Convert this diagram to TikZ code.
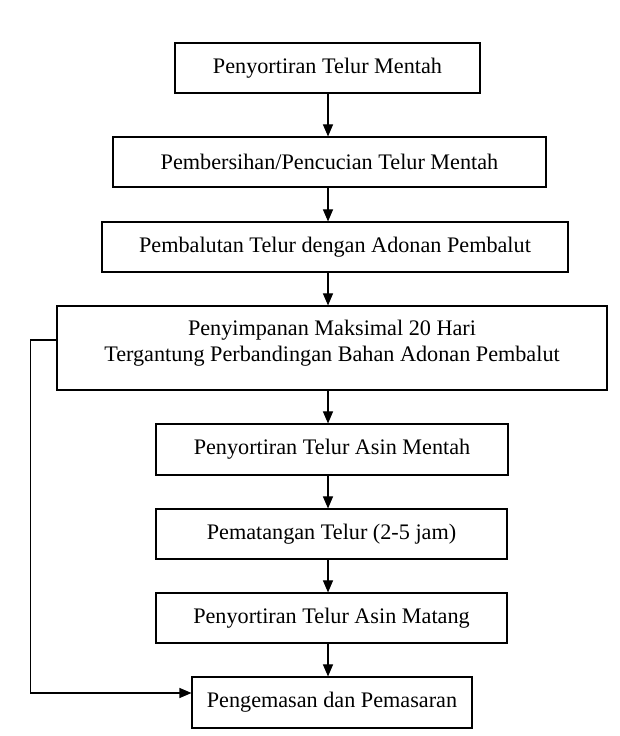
\documentclass[tikz,border=0pt]{standalone}
\usepackage{fontspec}
\setmainfont{Liberation Serif}
\usetikzlibrary{arrows.meta}

\begin{document}
\begin{tikzpicture}[x=1pt,y=1pt,
        langkah/.style={draw,line width=1.1pt,align=center,inner sep=0pt,
            font=\fontsize{22.2}{26}\selectfont},
        panah/.style={line width=1.1pt,-{Triangle[length=12pt,width=10pt]}}]
        \useasboundingbox (0,0) rectangle (620,736);

        \node[langkah,minimum width=305pt,minimum height=50pt] (sortir) at (327.5,668) {Penyortiran Telur Mentah};
        \node[langkah,minimum width=433pt,minimum height=50pt] (bersih) at (329.5,574) {Pembersihan/Pencucian Telur Mentah};
        \node[langkah,minimum width=466pt,minimum height=50pt] (balut) at (335,489) {Pembalutan Telur dengan Adonan Pembalut};
        \node[langkah,minimum width=550pt,minimum height=84pt,text depth=14pt] (simpan) at (332,388)
            {Penyimpanan Maksimal 20 Hari\\Tergantung Perbandingan Bahan Adonan Pembalut};
        \node[langkah,minimum width=352pt,minimum height=51pt] (sortirasin) at (332,286.5) {Penyortiran Telur Asin Mentah};
        \node[langkah,minimum width=351pt,minimum height=50pt] (matang) at (331.5,202) {Pematangan Telur (2-5 jam)};
        \node[langkah,minimum width=351pt,minimum height=50pt] (sortirmatang) at (331.5,118) {Penyortiran Telur Asin Matang};
        \node[langkah,minimum width=280pt,minimum height=51pt] (kemas) at (332,33.5) {Pengemasan dan Pemasaran};

        \coordinate (poros) at (328,0);

        \draw[panah] (sortir.south -| poros) -- (bersih.north -| poros);
        \draw[panah] (bersih.south -| poros) -- (balut.north -| poros);
        \draw[panah] (balut.south -| poros) -- (simpan.north -| poros);
        \draw[panah] (simpan.south -| poros) -- (sortirasin.north -| poros);
        \draw[panah] (sortirasin.south -| poros) -- (matang.north -| poros);
        \draw[panah] (matang.south -| poros) -- (sortirmatang.north -| poros);
        \draw[panah] (sortirmatang.south -| poros) -- (kemas.north -| poros);

        % jalur langsung ke pengemasan
        \draw[panah] ([yshift=8pt]simpan.west) -- ++(-26,0) |- ([yshift=9.5pt]kemas.west);
    \end{tikzpicture}
\end{document}
